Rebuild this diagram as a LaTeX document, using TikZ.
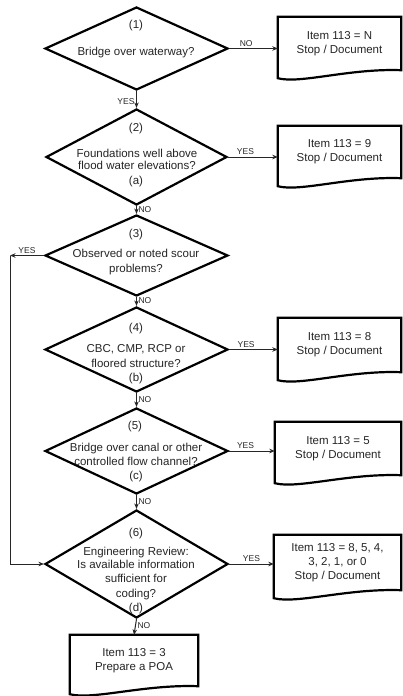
\documentclass[tikz,border=0pt]{standalone}
\usepackage{fontspec}
\setmainfont{Liberation Sans}
\usetikzlibrary{shapes.geometric,arrows.meta,calc}
\newcommand\docoutline[1]{%
  \draw[docline] (#1.south east) -- (#1.north east) -- (#1.north west) -- ([yshift=-8pt]#1.south west)
    .. controls ($(#1.south west)!0.18!(#1.south east)+(0,-14pt)$) and ($(#1.south west)!0.58!(#1.south east)+(0,2pt)$) .. (#1.south east) -- cycle;}
\begin{document}
\begin{tikzpicture}[x=1pt,y=-1pt,
  dia/.style={diamond, draw, line width=2.2pt, inner sep=0pt, line join=miter},
  docnode/.style={rectangle, draw=none, inner sep=0pt, align=center, text=black!85, font=\fontsize{11.5}{14}\selectfont},
  docline/.style={line width=2.2pt, line join=miter},
  txt/.style={anchor=base, inner sep=0pt, text=black!85, font=\fontsize{11.5}{14}\selectfont},
  arr/.style={line width=1pt, draw=black!85, -{Stealth[length=5.5pt,width=4.5pt]}},
  lab/.style={font=\fontsize{8.5}{10}\selectfont, inner sep=1.5pt, text=black!85}
]
\useasboundingbox[fill=white] (0,0) rectangle (403,696);

% decision diamonds
\node[dia, minimum width=183pt, minimum height=83pt]  (d1) at (136.5,48.5) {};
\node[dia, minimum width=181pt, minimum height=96pt]  (d2) at (136.5,157) {};
\node[dia, minimum width=183pt, minimum height=81pt]  (d3) at (136.5,255.5) {};
\node[dia, minimum width=183pt, minimum height=85pt]  (d4) at (136.5,349.5) {};
\node[dia, minimum width=183pt, minimum height=86pt]  (d5) at (136.5,451) {};
\node[dia, minimum width=183pt, minimum height=108pt] (d6) at (136.5,564) {};

% diamond texts
\node[txt] (t1a) at (136,28) {(1)};
\node[txt] (t1b) at (136,55) {Bridge over waterway?};
\node[txt] (t2a) at (136,131) {(2)};
\node[txt] (t2b) at (137,157) {Foundations well above};
\node[txt] (t2c) at (137,169) {flood water elevations?};
\node[txt] (t2d) at (136,184) {(a)};
\node[txt] (t3a) at (136,237) {(3)};
\node[txt] (t3b) at (136,257) {Observed or noted scour};
\node[txt] (t3c) at (136,272) {problems?};
\node[txt] (t4a) at (136,331) {(4)};
\node[txt] (t4b) at (136,352) {CBC, CMP, RCP or};
\node[txt] (t4c) at (136,367) {floored structure?};
\node[txt] (t4d) at (136,381) {(b)};
\node[txt] (t5a) at (135,429) {(5)};
\node[txt] (t5b) at (136,451) {Bridge over canal or other};
\node[txt] (t5c) at (136,465) {controlled flow channel?};
\node[txt] (t5d) at (136,479) {(c)};
\node[txt] (t6a) at (136,536) {(6)};
\node[txt] (t6b) at (136,555) {Engineering Review:};
\node[txt] (t6c) at (136,568) {Is available information};
\node[txt] (t6d) at (136,582) {sufficient for};
\node[txt] (t6e) at (136,597) {coding?};
\node[txt] (t6f) at (136,611) {(d)};

% document boxes
\node[docnode, minimum width=123pt, minimum height=53pt] (r1) at (339.5,43.5) {Item 113 = N\\Stop / Document};
\node[docnode, minimum width=123pt, minimum height=52pt] (r2) at (339.5,152) {Item 113 = 9\\Stop / Document};
\node[docnode, minimum width=123pt, minimum height=54pt] (r4) at (339.5,345) {Item 113 = 8\\Stop / Document};
\node[docnode, minimum width=126pt, minimum height=53pt] (r5) at (338,448.5) {Item 113 = 5\\Stop / Document};
\node[docnode, minimum width=127pt, minimum height=55pt] (r6) at (337.5,562.5) {Item 113 = 8, 5, 4,\\3, 2, 1, or 0\\Stop / Document};
\node[docnode, minimum width=128pt, minimum height=51pt] (r7) at (134,660.5) {Item 113 = 3\\Prepare a POA};
\docoutline{r1}
\docoutline{r2}
\docoutline{r4}
\docoutline{r5}
\docoutline{r6}
\docoutline{r7}

% horizontal connectors
\draw[arr] (d1.east) -- node[lab, above, pos=0.35] {NO}  (d1.east -| r1.west);
\draw[arr] (d2.east) -- node[lab, above, pos=0.35] {YES} (d2.east -| r2.west);
\draw[arr] (d4.east) -- node[lab, above, pos=0.35] {YES} (d4.east -| r4.west);
\draw[arr] (d5.east) -- node[lab, above, pos=0.36] {YES} (d5.east -| r5.west);
\draw[arr] (d6.east) -- node[lab, above, pos=0.5]  {YES} (d6.east -| r6.west);

% vertical connectors
\draw[arr] (d1.south) -- node[lab, left, pos=0.6]  {YES} (d2.north);
\draw[arr] (d2.south) -- node[lab, right, pos=0.4] {NO}  (d3.north);
\draw[arr] (d3.south) -- node[lab, right, pos=0.4] {NO}  (d4.north);
\draw[arr] (d4.south) -- node[lab, right, pos=0.5] {NO}  (d5.north);
\draw[arr] (d5.south) -- node[lab, right, pos=0.5] {NO}  (d6.north);
\draw[arr] (d6.south) -- node[lab, right, pos=0.4] {NO}  (r7.north);

% loop from (3) YES to (6)
\coordinate (lp) at (10,255.5);
\draw[arr] (d3.west) -- node[lab, above, pos=0.5] {YES} (lp);
\draw[arr] (lp) -- (lp |- d6.west) -- (d6.west);
\end{tikzpicture}
\end{document}
